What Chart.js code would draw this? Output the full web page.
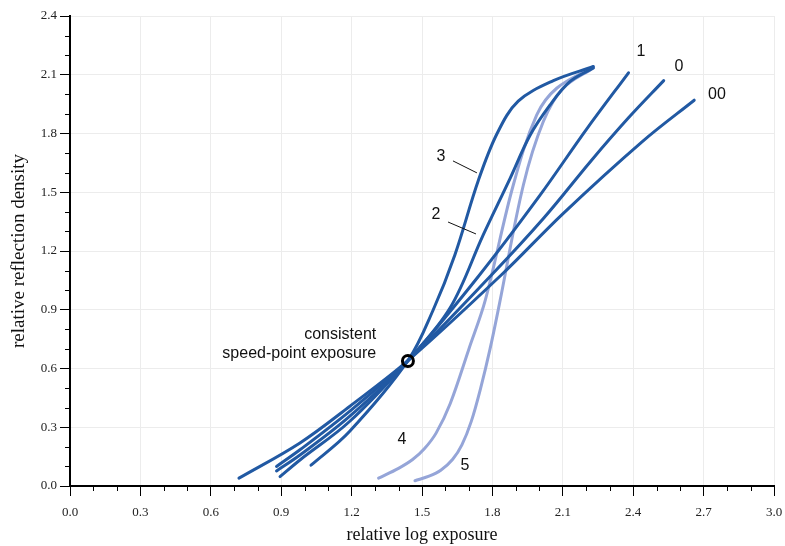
<!DOCTYPE html>
<html lang="en">
<head>
<meta charset="UTF-8">
<title>Paper grade characteristic curves</title>
<script src="https://cdn.jsdelivr.net/npm/chart.js"></script>
<style>
  html, body { margin: 0; padding: 0; background: #fff; }
</style>
</head>
<body>
<canvas id="curves" width="785" height="546"></canvas>
<script>
  // curve readings: relative log exposure (x) vs relative reflection density (y)
  const grade00X = [0.72, 0.98, 1.19, 1.44, 1.84, 2.10, 2.44, 2.66];
  const grade00Y = [0.04, 0.22, 0.405, 0.64, 1.08, 1.39, 1.76, 1.97];
  const grade0X = [0.88, 0.98, 1.19, 1.44, 1.79, 2.02, 2.22, 2.38, 2.53];
  const grade0Y = [0.10, 0.185, 0.38, 0.64, 1.07, 1.37, 1.66, 1.88, 2.07];
  const grade1X = [0.88, 0.98, 1.19, 1.44, 1.74, 2.00, 2.20, 2.38];
  const grade1Y = [0.077, 0.158, 0.354, 0.64, 1.07, 1.48, 1.82, 2.11];
  const grade2X = [0.895, 0.98, 1.19, 1.44, 1.62, 1.76, 1.875, 1.96, 2.045, 2.13, 2.23];
  const grade2Y = [0.048, 0.133, 0.328, 0.64, 0.91, 1.28, 1.57, 1.79, 1.945, 2.065, 2.135];
  const grade3X = [1.027, 1.19, 1.44, 1.548, 1.64, 1.74, 1.82, 1.91, 2.06, 2.23];
  const grade3Y = [0.106, 0.277, 0.64, 0.90, 1.18, 1.56, 1.80, 1.965, 2.07, 2.142];
  const grade4X = [1.315, 1.40, 1.46, 1.51, 1.56, 1.62, 1.70, 1.77, 1.889, 1.989, 2.074, 2.23];
  const grade4Y = [0.04, 0.09, 0.135, 0.19, 0.27, 0.42, 0.70, 0.95, 1.537, 1.895, 2.031, 2.14];
  const grade5X = [1.47, 1.53, 1.58, 1.63, 1.67, 1.71, 1.75, 1.79, 1.83, 1.932, 2.017, 2.10, 2.23];
  const grade5Y = [0.027, 0.05, 0.08, 0.135, 0.21, 0.33, 0.50, 0.70, 0.93, 1.537, 1.861, 2.03, 2.135];

  const speedPointX = [1.44];
  const speedPointY = [0.638];

  // short leader lines for the "3" and "2" labels
  const leader3X = [1.632, 1.734];
  const leader3Y = [1.66, 1.599];
  const leader2X = [1.611, 1.73];
  const leader2Y = [1.348, 1.287];

  const curveLabels = ['00', '0', '1', '2', '3', '4', '5'];
  const curveLabelX = [2.757, 2.595, 2.433, 1.559, 1.581, 1.415, 1.683];
  const curveLabelY = [1.997, 2.14, 2.217, 1.384, 1.68, 0.235, 0.102];

  const noteLines = ['consistent', 'speed-point exposure'];
  const noteX = 1.305;
  const noteY = [0.771, 0.674];

  const dark = '#2159a3';
  const light = '#95a5d8';

  const pts = (xs, ys) => xs.map((x, i) => ({ x: x, y: ys[i] }));

  function curve(xs, ys, color, order) {
    return {
      data: pts(xs, ys),
      borderColor: color,
      borderWidth: 3,
      borderCapStyle: 'round',
      pointRadius: 0,
      tension: 0.35,
      fill: false,
      order: order
    };
  }

  function leader(xs, ys) {
    return {
      data: pts(xs, ys),
      borderColor: '#111',
      borderWidth: 1,
      pointRadius: 0,
      fill: false,
      order: 0
    };
  }

  const overlay = {
    id: 'overlay',
    afterDraw(chart) {
      const ctx = chart.ctx;
      const xs = chart.scales.x, ys = chart.scales.y;
      ctx.save();
      // minor ticks every 0.1
      ctx.strokeStyle = '#000';
      ctx.lineWidth = 1;
      ctx.beginPath();
      for (let i = 1; i < 30; i++) {
        if (i % 3 === 0) continue;
        const px = Math.round(xs.getPixelForValue(i / 10)) + 0.5;
        ctx.moveTo(px, ys.bottom);
        ctx.lineTo(px, ys.bottom + 5);
      }
      for (let i = 1; i < 24; i++) {
        if (i % 3 === 0) continue;
        const py = Math.round(ys.getPixelForValue(i / 10)) + 0.5;
        ctx.moveTo(xs.left - 5, py);
        ctx.lineTo(xs.left, py);
      }
      ctx.stroke();

      ctx.fillStyle = '#111';
      ctx.font = '16px "Liberation Sans", Arial, sans-serif';
      ctx.textAlign = 'center';
      ctx.textBaseline = 'middle';
      curveLabels.forEach((t, i) => {
        ctx.fillText(t, xs.getPixelForValue(curveLabelX[i]), ys.getPixelForValue(curveLabelY[i]));
      });
      ctx.textAlign = 'right';
      noteLines.forEach((t, i) => {
        ctx.fillText(t, xs.getPixelForValue(noteX), ys.getPixelForValue(noteY[i]));
      });
      ctx.restore();
    }
  };

  const serif = '"Liberation Serif", "Times New Roman", serif';

  new Chart(document.getElementById('curves').getContext('2d'), {
    type: 'line',
    data: {
      datasets: [
        curve(grade00X, grade00Y, dark, 1),
        curve(grade0X, grade0Y, dark, 1),
        curve(grade1X, grade1Y, dark, 1),
        curve(grade2X, grade2Y, dark, 1),
        curve(grade3X, grade3Y, dark, 1),
        curve(grade4X, grade4Y, light, 2),
        curve(grade5X, grade5Y, light, 2),
        leader(leader3X, leader3Y),
        leader(leader2X, leader2Y),
        {
          data: pts(speedPointX, speedPointY),
          showLine: false,
          pointRadius: 5.5,
          pointBorderWidth: 3,
          pointBorderColor: '#000',
          pointBackgroundColor: 'rgba(0,0,0,0)',
          order: -1
        }
      ]
    },
    options: {
      responsive: false,
      animation: false,
      layout: { padding: { left: 6, right: 11, top: 16, bottom: 0 } },
      plugins: {
        legend: { display: false },
        tooltip: { enabled: false }
      },
      scales: {
        x: {
          type: 'linear',
          min: 0,
          max: 3,
          afterFit: s => { s.height = 60; s.paddingLeft = 0; s.paddingRight = 0; },
          border: { color: '#000', width: 2 },
          grid: { color: '#ececec', tickColor: '#000', tickLength: 10, tickWidth: 1 },
          ticks: {
            stepSize: 0.3,
            padding: 9,
            color: '#222',
            font: { family: serif, size: 13 },
            callback: v => v.toFixed(1)
          },
          title: {
            display: true,
            text: 'relative log exposure',
            color: '#111',
            font: { family: serif, size: 18 },
            padding: { top: 2, bottom: 0 }
          }
        },
        y: {
          type: 'linear',
          min: 0,
          max: 2.4,
          afterFit: s => { s.width = 64; s.paddingTop = 0; s.paddingBottom = 0; },
          border: { color: '#000', width: 2 },
          grid: { color: '#ececec', tickColor: '#000', tickLength: 10, tickWidth: 1 },
          ticks: {
            stepSize: 0.3,
            padding: 3,
            color: '#222',
            font: { family: serif, size: 13 },
            callback: v => v.toFixed(1)
          },
          title: {
            display: true,
            text: 'relative reflection density',
            color: '#111',
            font: { family: serif, size: 19 },
            padding: { top: 2, bottom: 4 }
          }
        }
      }
    },
    plugins: [overlay]
  });
</script>
</body>
</html>
